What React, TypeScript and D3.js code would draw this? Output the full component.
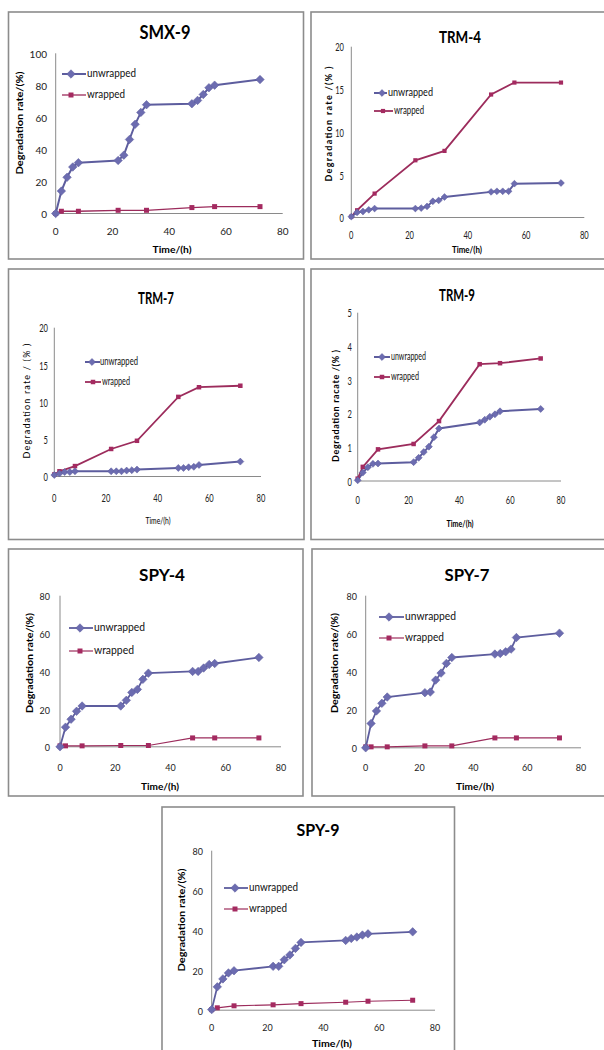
import React from "react";
import * as d3 from "d3";

// ---------- data ----------
const TIMES_UNWRAPPED = [0, 2, 4, 6, 8, 22, 24, 26, 28, 30, 32, 48, 50, 52, 54, 56, 72];
const TIMES_WRAPPED = [0, 2, 8, 22, 32, 48, 56, 72];
const X_TICKS = [0, 20, 40, 60, 80];
const Y_TICKS_100 = [0, 20, 40, 60, 80, 100];
const Y_TICKS_80 = [0, 20, 40, 60, 80];
const Y_TICKS_20 = [0, 5, 10, 15, 20];
const Y_TICKS_5 = [0, 1, 2, 3, 4, 5];
const SERIES_NAMES = ["unwrapped", "wrapped"];

const SMX9_UNWRAPPED = [0, 14, 22.6, 29, 31.7, 33.1, 36.4, 46.2, 55.7, 63.1, 67.9, 68.5, 70.6, 74.3, 78.5, 80.1, 83.6];
const SMX9_WRAPPED = [0, 1.4, 1.4, 2, 2, 3.7, 4.3, 4.3];
const TRM4_UNWRAPPED = [0.1, 0.6, 0.7, 0.9, 1.05, 1.05, 1.1, 1.3, 1.9, 2.0, 2.4, 3.0, 3.07, 3.07, 3.07, 3.96, 4.04];
const TRM4_WRAPPED = [0.1, 0.85, 2.8, 6.7, 7.8, 14.4, 15.8, 15.8];
const TRM7_UNWRAPPED = [0.2, 0.4, 0.6, 0.6, 0.7, 0.7, 0.7, 0.7, 0.8, 0.85, 0.93, 1.15, 1.15, 1.24, 1.3, 1.55, 2.0];
const TRM7_WRAPPED = [0.27, 0.7, 1.4, 3.7, 4.8, 10.7, 12.0, 12.2];
const TRM9_UNWRAPPED = [0.02, 0.25, 0.41, 0.51, 0.52, 0.56, 0.69, 0.86, 1.02, 1.3, 1.56, 1.74, 1.82, 1.91, 1.98, 2.07, 2.14];
const TRM9_WRAPPED = [0.07, 0.42, 0.94, 1.1, 1.78, 3.47, 3.5, 3.64];
const SPY4_UNWRAPPED = [0, 10.4, 14.6, 18.8, 21.6, 21.6, 24.6, 28.8, 30.4, 35.7, 39, 39.9, 39.9, 41.7, 43.6, 44.1, 47.3];
const SPY4_WRAPPED = [0.5, 0.5, 0.5, 0.7, 0.7, 4.7, 4.7, 4.7];
const SPY7_UNWRAPPED = [0, 12.8, 19.4, 23.4, 26.7, 29, 29.3, 35.6, 39.3, 44.4, 47.5, 49.3, 49.6, 50.5, 51.9, 58, 60.3];
const SPY7_WRAPPED = [0.5, 0.5, 0.5, 1.0, 1.0, 5.2, 5.2, 5.2];
const SPY9_UNWRAPPED = [0.3, 11.7, 15.7, 18.7, 19.8, 22, 22, 25.3, 27.7, 31, 34, 35, 36, 36.7, 37.7, 38.3, 39.3];
const SPY9_WRAPPED = [0.3, 1.2, 2.2, 2.7, 3.3, 4, 4.5, 5];

// ---------- layout ----------
const FONT = "Lato, 'Open Sans', sans-serif";
const C_UN = "#5d5d9e";
const C_UN_M = "#6c6cb0";
const C_WR = "#9c2c5c";
const C_WR_M = "#a42a60";
const AXIS = "#8a8a8a";
const BORDER = "#8c8c8c";

type Panel = {
  title: string; yTitle: string; xTitle: string;
  un: number[]; wr: number[]; yTicks: number[];
  box: [number, number, number, number];
  xr: [number, number]; yr: [number, number];
  title_: [number, number, number, number];
  yt: [number, number, number, number, boolean, boolean]; // cx, cy, size, len, bold, spaced
  xt: [number, number, number, number, boolean];
  xTickY: number; yTickR: number; tickSize: number; cond: number;
  lg: { x0: number; x1: [number, number]; mx: [number, number]; y: [number, number]; tx: [number, number]; len: [number, number]; size: number };
  diam: number; sq: number; lw: number; lwW: number;
};

const PANELS: Panel[] = [
  {
    title: "SMX-9", yTitle: "Degradation rate/(%)", xTitle: "Time/(h)",
    un: SMX9_UNWRAPPED, wr: SMX9_WRAPPED, yTicks: Y_TICKS_100,
    box: [8.5, 12, 303.5, 259], xr: [55.7, 282.7], yr: [213.5, 53.3],
    title_: [165, 33, 18, 51], yt: [20, 123, 10, 103, true, false], xt: [172, 249, 10, 39, true],
    xTickY: 231, yTickR: 47, tickSize: 10, cond: 1,
    lg: { x0: 62, x1: [86, 86], mx: [71, 71], y: [74, 95], tx: [87, 87], len: [49, 38], size: 11 },
    diam: 8.5, sq: 5, lw: 1.8, lwW: 1.3,
  },
  {
    title: "TRM-4", yTitle: "Degradation rate /(% )", xTitle: "Time/(h)",
    un: TRM4_UNWRAPPED, wr: TRM4_WRAPPED, yTicks: Y_TICKS_20,
    box: [311, 12, 607, 259], xr: [351.3, 584.3], yr: [217.5, 46.7],
    title_: [460, 37, 17, 42], yt: [329, 124, 9, 115, true, true], xt: [467, 249.5, 10, 30, true],
    xTickY: 235, yTickR: 344, tickSize: 10.5, cond: 0.72,
    lg: { x0: 374, x1: [387, 393], mx: [382, 383], y: [93, 111], tx: [388, 394], len: [45, 30], size: 10.5 },
    diam: 6.8, sq: 4.2, lw: 1.8, lwW: 1.8,
  },
  {
    title: "TRM-7", yTitle: "Degradation rate / (% )", xTitle: "Time/(h)",
    un: TRM7_UNWRAPPED, wr: TRM7_WRAPPED, yTicks: Y_TICKS_20,
    box: [8.5, 269, 304, 539.5], xr: [54.3, 261], yr: [476.5, 327.7],
    title_: [156, 297.5, 17, 36], yt: [27, 401, 9, 115, false, true], xt: [158, 520, 10, 25, false],
    xTickY: 498, yTickR: 48, tickSize: 10.5, cond: 0.72,
    lg: { x0: 85, x1: [100, 101], mx: [92, 93], y: [362, 382], tx: [100, 102], len: [38, 28], size: 10.5 },
    diam: 7, sq: 4.5, lw: 1.8, lwW: 1.8,
  },
  {
    title: "TRM-9", yTitle: "Degradation racate /(% )", xTitle: "Time/(h)",
    un: TRM9_UNWRAPPED, wr: TRM9_WRAPPED, yTicks: Y_TICKS_5,
    box: [311, 269, 607, 539.5], xr: [357.7, 561], yr: [481, 312.7],
    title_: [457, 295, 17, 36], yt: [336, 406, 9, 112, true, true], xt: [460, 523, 10, 27, true],
    xTickY: 500, yTickR: 352, tickSize: 10.5, cond: 0.72,
    lg: { x0: 374, x1: [390, 390], mx: [382, 382], y: [357, 377], tx: [391, 391], len: [35, 28], size: 10.5 },
    diam: 7, sq: 4.5, lw: 1.8, lwW: 1.8,
  },
  {
    title: "SPY-4", yTitle: "Degradation rate/(%)", xTitle: "Time/(h)",
    un: SPY4_UNWRAPPED, wr: SPY4_WRAPPED, yTicks: Y_TICKS_80,
    box: [8.5, 549, 303, 796], xr: [60, 281], yr: [746.8, 595.7],
    title_: [162, 574.5, 17, 46], yt: [30, 663, 10, 100, true, false], xt: [160, 786, 10, 38, true],
    xTickY: 767, yTickR: 50, tickSize: 10, cond: 0.9,
    lg: { x0: 69, x1: [93, 93], mx: [80, 80], y: [628, 651], tx: [94, 94], len: [51, 40], size: 11 },
    diam: 8.5, sq: 5, lw: 1.6, lwW: 1.2,
  },
  {
    title: "SPY-7", yTitle: "Degradation rate/(%)", xTitle: "Time/(h)",
    un: SPY7_UNWRAPPED, wr: SPY7_WRAPPED, yTicks: Y_TICKS_80,
    box: [312, 549, 607, 796], xr: [365.7, 581], yr: [747.8, 595.7],
    title_: [467, 575, 17, 45], yt: [335, 663, 10, 100, true, false], xt: [475, 786, 10, 38, true],
    xTickY: 767, yTickR: 357, tickSize: 10, cond: 0.9,
    lg: { x0: 379, x1: [404, 404], mx: [389, 389], y: [617, 638], tx: [405, 405], len: [51, 39], size: 11 },
    diam: 8.5, sq: 5, lw: 1.6, lwW: 1.2,
  },
  {
    title: "SPY-9", yTitle: "Degradation rate/(%)", xTitle: "Time/(h)",
    un: SPY9_UNWRAPPED, wr: SPY9_WRAPPED, yTicks: Y_TICKS_80,
    box: [162, 807, 454.5, 1060], xr: [211.7, 435], yr: [1010.2, 850.7],
    title_: [318, 830, 17, 43], yt: [182, 920, 10, 103, true, false], xt: [332, 1043, 10, 40, true],
    xTickY: 1027, yTickR: 203, tickSize: 10, cond: 0.9,
    lg: { x0: 224, x1: [248, 248], mx: [235, 235], y: [888, 909], tx: [249, 249], len: [49, 38], size: 11 },
    diam: 8.5, sq: 5, lw: 1.6, lwW: 1.2,
  },
];

function Chart({ p }: { p: Panel }) {
  const yMax = p.yTicks[p.yTicks.length - 1];
  const x = d3.scaleLinear().domain([0, 80]).range(p.xr);
  const y = d3.scaleLinear().domain([0, yMax]).range(p.yr);
  const line = d3.line<[number, number]>().x((d) => x(d[0])).y((d) => y(d[1]));
  const unPts: [number, number][] = TIMES_UNWRAPPED.map((t, i) => [t, p.un[i]]);
  const wrPts: [number, number][] = TIMES_WRAPPED.map((t, i) => [t, p.wr[i]]);
  const diamondPath = d3.symbol(d3.symbolSquare, (p.diam * p.diam) / 2)()!;
  const squarePath = d3.symbol(d3.symbolSquare, p.sq * p.sq)()!;
  const [bx0, by0, bx1, by1] = p.box;
  const [tcx, tcy, tsz, tlen] = p.title_;
  const [ycx, ycy, ysz, ylen, ybold, yspaced] = p.yt;
  const [xcx, xcy, xsz, xlen, xbold] = p.xt;
  const lg = p.lg;
  const Diamond = ({ cx, cy }: { cx: number; cy: number }) => (
    <path d={diamondPath} transform={`translate(${cx},${cy}) rotate(45)`} fill={C_UN_M} stroke={C_UN} strokeWidth={0.5} />
  );
  const Square = ({ cx, cy }: { cx: number; cy: number }) => (
    <path d={squarePath} transform={`translate(${cx},${cy})`} fill={C_WR_M} />
  );
  return (
    <g>
      <rect x={bx0} y={by0} width={bx1 - bx0} height={by1 - by0} fill="#fff" stroke={BORDER} strokeWidth={1.6} />
      <text x={tcx} y={tcy + 0.36 * tsz} textAnchor="middle" fontFamily={FONT} fontWeight="bold" fontSize={tsz}
        textLength={tlen} lengthAdjust="spacingAndGlyphs" fill="#000">{p.title}</text>
      <line x1={p.xr[0]} x2={p.xr[0]} y1={y(0)} y2={y(yMax)} stroke={AXIS} strokeWidth={1} />
      <line x1={p.xr[0]} x2={p.xr[1]} y1={y(0)} y2={y(0)} stroke={AXIS} strokeWidth={1} />
      {p.yTicks.map((t) => (
        <g key={"y" + t} transform={`translate(${p.yTickR},${y(t) + 1 + 0.36 * p.tickSize}) scale(${p.cond},1)`}>
          <text textAnchor="end" fontFamily={FONT} fontSize={p.tickSize} fill="#222">{t}</text>
        </g>
      ))}
      {X_TICKS.map((t) => (
        <g key={"x" + t} transform={`translate(${x(t)},${p.xTickY + 0.36 * p.tickSize}) scale(${p.cond},1)`}>
          <text textAnchor="middle" fontFamily={FONT} fontSize={p.tickSize} fill="#222">{t}</text>
        </g>
      ))}
      <text transform={`translate(${ycx + 0.3 * ysz},${ycy}) rotate(-90)`} textAnchor="middle" fontFamily={FONT}
        fontWeight={ybold ? "bold" : "normal"} fontSize={ysz} textLength={ylen}
        lengthAdjust={yspaced ? "spacing" : "spacingAndGlyphs"} fill="#000">{p.yTitle}</text>
      <text x={xcx} y={xcy + 0.36 * xsz} textAnchor="middle" fontFamily={FONT} fontWeight={xbold ? "bold" : "normal"}
        fontSize={xsz} textLength={xlen} lengthAdjust="spacingAndGlyphs" fill="#000">{p.xTitle}</text>
      <path d={line(wrPts)!} fill="none" stroke={C_WR} strokeWidth={p.lwW} />
      <path d={line(unPts)!} fill="none" stroke={C_UN} strokeWidth={p.lw + 0.2} />
      {wrPts.map((d, i) => <Square key={"w" + i} cx={x(d[0])} cy={y(d[1])} />)}
      {unPts.map((d, i) => <Diamond key={"u" + i} cx={x(d[0])} cy={y(d[1])} />)}
      <line x1={lg.x0} x2={lg.x1[0]} y1={lg.y[0]} y2={lg.y[0]} stroke={C_UN} strokeWidth={p.lw + 0.2} />
      <Diamond cx={lg.mx[0]} cy={lg.y[0]} />
      <text x={lg.tx[0]} y={lg.y[0] + 0.3 * lg.size} fontFamily={FONT} fontSize={lg.size} textLength={lg.len[0]}
        lengthAdjust="spacingAndGlyphs" fill="#111">{SERIES_NAMES[0]}</text>
      <line x1={lg.x0} x2={lg.x1[1]} y1={lg.y[1]} y2={lg.y[1]} stroke={C_WR} strokeWidth={p.lwW} />
      <Square cx={lg.mx[1]} cy={lg.y[1]} />
      <text x={lg.tx[1]} y={lg.y[1] + 0.3 * lg.size} fontFamily={FONT} fontSize={lg.size} textLength={lg.len[1]}
        lengthAdjust="spacingAndGlyphs" fill="#111">{SERIES_NAMES[1]}</text>
    </g>
  );
}

export default function App() {
  return (
    <svg width={604} height={1050} viewBox="0 0 604 1050" style={{ position: "absolute", left: 0, top: 0, background: "#fff" }}>
      <rect x={0} y={0} width={604} height={1050} fill="#fff" />
      {PANELS.map((p) => <Chart key={p.title} p={p} />)}
    </svg>
  );
}
